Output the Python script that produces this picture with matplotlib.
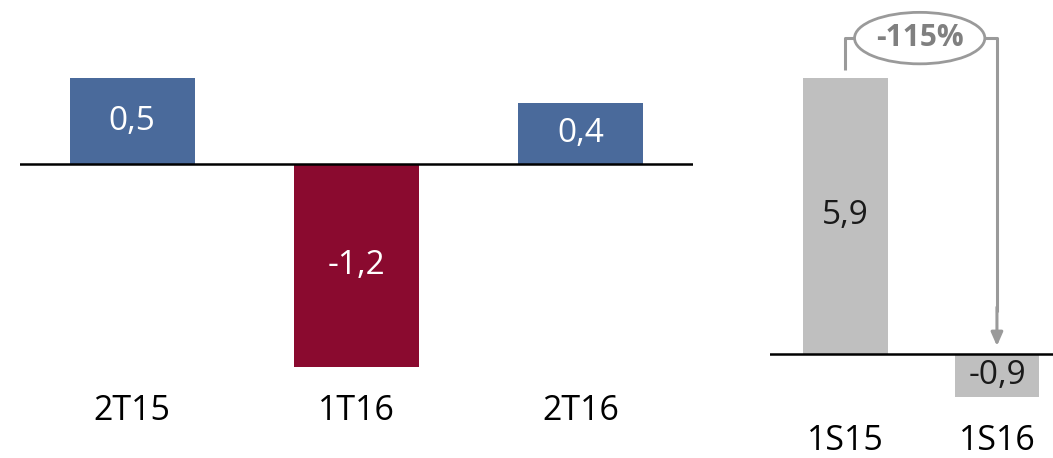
import matplotlib
matplotlib.use("Agg")
import matplotlib.pyplot as plt
from matplotlib.patches import Ellipse

# ---- data ----
q_labels = ["2T15", "1T16", "2T16"]
q_values = [0.5, -1.18, 0.352]
q_colors = ["#4A6A9B", "#8A0A2F", "#4A6A9B"]

s_labels = ["1S15", "1S16"]
s_values = [5.9, -0.92]
s_color = "#BFBFBF"
change_label = "-115%"

W, H = 1053, 458
FONT = "Open Sans"

def fmt(v):
    return f"{v:.1f}".replace(".", ",")

fig = plt.figure(figsize=(W / 100, H / 100), dpi=100)

def px_axes(x0, x1):
    return fig.add_axes([x0 / W, 0, (x1 - x0) / W, 1])

# ---- left panel ----
axL = px_axes(20, 693)
axL.set_xlim(-0.5, 2.5)
scaleL = 172.0
baseL = 164
axL.set_ylim(-(H - baseL) / scaleL, baseL / scaleL)
axL.axis("off")
xs = range(len(q_values))
axL.bar(xs, q_values, width=0.558, color=q_colors, zorder=2)
axL.axhline(0, color="black", lw=1.8, zorder=3)
for x, v in zip(xs, q_values):
    axL.text(x, v / 2, fmt(v), ha="center", va="center", color="white",
             fontsize=24, family=FONT)
for x, lab in zip(xs, q_labels):
    axL.text(x, -(411 - baseL) / scaleL, lab, ha="center", va="center",
             color="black", fontsize=24.5, family=FONT)

# ---- right panel ----
axR = px_axes(770, 1053)
axR.set_xlim(-0.498, 1.37)
scaleR = 46.8
baseR = 354
axR.set_ylim(-(H - baseR) / scaleR, baseR / scaleR)
axR.axis("off")
xr = range(len(s_values))
axR.bar(xr, s_values, width=0.56, color=s_color, zorder=2)
axR.axhline(0, color="black", lw=1.8, zorder=3)
for x, v in zip(xr, s_values):
    axR.text(x, v / 2, fmt(v), ha="center", va="center", color="#1A1A1A",
             fontsize=24, family=FONT)
for x, lab in zip(xr, s_labels):
    axR.text(x, -(441 - baseR) / scaleR, lab, ha="center", va="center",
             color="black", fontsize=24.5, family=FONT)

# bracket annotation
gc = "#9A9A9A"
yb = s_values[0] + 0.85
ystart = s_values[0] + 0.17
ex, ew, eh = 0.49, 0.86, 1.1
axR.plot([0, 0, ex - ew / 2], [ystart, yb, yb], color=gc, lw=2.2, solid_capstyle="butt")
axR.plot([ex + ew / 2, 1, 1], [yb, yb, 0.9], color=gc, lw=2.2, solid_capstyle="butt")
axR.annotate("", xy=(1, 0.17), xytext=(1, 1.0),
             arrowprops=dict(arrowstyle="-|>,head_length=0.8,head_width=0.35",
                             color=gc, lw=2.2, shrinkA=0, shrinkB=0))
axR.add_patch(Ellipse((ex, yb), ew, eh, facecolor="white", edgecolor=gc, lw=2, zorder=4))
axR.text(ex, yb, change_label, ha="center", va="center", color="#808080",
         fontsize=21.5, fontweight="bold", family=FONT, zorder=5)

fig.savefig("out.png", dpi=100)
